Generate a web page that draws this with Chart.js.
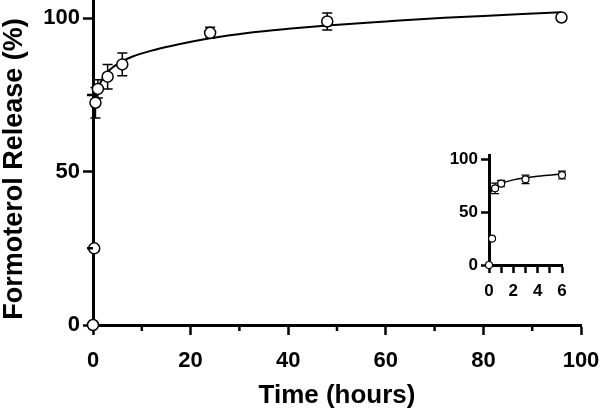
<!DOCTYPE html>
<html><head><meta charset="utf-8">
<script src="https://cdn.jsdelivr.net/npm/chart.js@4"></script>
<style>
html,body{margin:0;padding:0;background:#fff;}
#wrap{position:relative;width:600px;height:411px;overflow:hidden;}
#main{position:absolute;left:0;top:0;}
#inset{position:absolute;left:430px;top:140px;}
</style></head>
<body><div id="wrap"><canvas id="main" width="600" height="411"></canvas><canvas id="inset" width="150" height="170"></canvas></div>
<script>
// measured data
const timeHours  = [0, 0.25, 0.5, 1, 3, 6, 24, 48, 96];
const releasePct = [0, 25, 72.5, 77, 81, 85, 95.3, 99, 100.3];
const releaseSD  = [0, 0, 5, 3, 4, 3.7, 1.8, 2.8, 0];
// fitted curve
const fitTime = [0, 0.02, 0.05, 0.1, 0.25, 0.5, 1, 2, 3, 4, 6, 8, 12, 16, 24, 32, 40, 48, 60, 72, 84, 96];
const fitPct  = [0, 60, 64, 67, 71, 74, 77, 80.5, 82.5, 84, 86, 87.5, 89.5, 91, 93.5, 95.3, 96.6, 97.7, 99, 100.2, 101.1, 102];
// axis ticks
const mainXTicks = [0, 20, 40, 60, 80, 100];
const mainXMinor = [10, 30, 50, 70, 90];
const mainYTicks = [0, 50, 100];
const mainYMinor = [25, 75];
const insetXTicks = [0, 1, 2, 3, 4, 5, 6];
const insetXLabels = [0, 2, 4, 6];
const insetYTicks = [0, 50, 100];
const insetMaxTime = 6;
const xTitleText = 'Time (hours)';
const yTitleText = 'Formoterol Release (%)';

const FONT = "'Liberation Sans', Arial, sans-serif";

function pts(xs, ys, maxX) {
  const out = [];
  xs.forEach((x, i) => { if (maxX === undefined || x <= maxX) out.push({x: x, y: ys[i]}); });
  return out;
}

const errorBars = {
  id: 'errorBars',
  beforeDatasetsDraw(chart, args, opts) {
    const ctx = chart.ctx, xs = chart.scales.x, ys = chart.scales.y;
    ctx.save();
    ctx.strokeStyle = '#000';
    ctx.lineWidth = opts.lw || 1.5;
    const cap = opts.cap || 5;
    timeHours.forEach((t, i) => {
      if (t > xs.max) return;
      const sd = releaseSD[i];
      if (!sd) return;
      const px = xs.getPixelForValue(t);
      const top = ys.getPixelForValue(releasePct[i] + sd);
      const bot = ys.getPixelForValue(releasePct[i] - sd);
      ctx.beginPath();
      ctx.moveTo(px, top); ctx.lineTo(px, bot);
      ctx.moveTo(px - cap, top); ctx.lineTo(px + cap, top);
      ctx.moveTo(px - cap, bot); ctx.lineTo(px + cap, bot);
      ctx.stroke();
    });
    ctx.restore();
  }
};

const minorTicks = {
  id: 'minorTicks',
  afterDraw(chart, args, opts) {
    if (!opts.x && !opts.y) return;
    const ctx = chart.ctx, xs = chart.scales.x, ys = chart.scales.y, a = chart.chartArea;
    ctx.save();
    ctx.strokeStyle = '#000';
    ctx.lineWidth = opts.lw || 2.5;
    ctx.beginPath();
    (opts.x || []).forEach(v => { const p = xs.getPixelForValue(v); ctx.moveTo(p, a.bottom); ctx.lineTo(p, a.bottom + opts.len); });
    (opts.y || []).forEach(v => { const p = ys.getPixelForValue(v); ctx.moveTo(a.left, p); ctx.lineTo(a.left - opts.len, p); });
    ctx.stroke();
    ctx.restore();
  }
};

// vertical axis title drawn as text, centred slightly below the plot-area middle as in the reference
const yTitlePlugin = {
  id: 'yTitlePlugin',
  afterDraw(chart, args, opts) {
    if (!opts.text) return;
    const ctx = chart.ctx;
    ctx.save();
    ctx.translate(opts.x, opts.y);
    ctx.rotate(-Math.PI / 2);
    ctx.font = 'bold ' + opts.size + 'px ' + FONT;
    ctx.fillStyle = '#000';
    ctx.textAlign = 'center';
    ctx.textBaseline = 'middle';
    ctx.fillText(opts.text, 0, 0);
    ctx.restore();
  }
};

function makeChart(el, cfg) {
  const xTicksArr = cfg.xTicks, yTicksArr = cfg.yTicks;
  return new Chart(el, {
    type: 'scatter',
    data: {
      datasets: [
        {
          type: 'line',
          data: pts(fitTime, fitPct, cfg.xMax),
          borderColor: '#000',
          borderWidth: cfg.curveW,
          pointRadius: 0,
          fill: false,
          cubicInterpolationMode: 'monotone',
          order: 2,
          clip: false
        },
        {
          data: pts(timeHours, releasePct, cfg.xMax),
          pointStyle: 'circle',
          pointRadius: cfg.r,
          pointBorderWidth: cfg.pw,
          pointBorderColor: '#000',
          pointBackgroundColor: '#fff',
          borderColor: '#000',
          backgroundColor: '#fff',
          order: 1,
          clip: false
        }
      ]
    },
    options: {
      responsive: false,
      animation: false,
      devicePixelRatio: 1,
      events: [],
      layout: { padding: cfg.pad, autoPadding: false },
      plugins: {
        legend: { display: false },
        tooltip: { enabled: false },
        errorBars: { cap: cfg.cap, lw: cfg.ew },
        minorTicks: cfg.minor,
        yTitlePlugin: cfg.yTitle || {}
      },
      scales: {
        x: {
          type: 'linear', min: 0, max: cfg.xMax, z: 1,
          afterBuildTicks: s => { s.ticks = xTicksArr.map(v => ({ value: v })); },
          afterFit: s => { s.height = cfg.xH; s.paddingLeft = 0; s.paddingRight = 0; s.paddingTop = 0; },
          border: { display: true, color: '#000', width: cfg.axisW },
          grid: { display: true, drawOnChartArea: false, drawTicks: true, tickLength: cfg.tl, tickWidth: cfg.tw, tickColor: '#000', color: '#000' },
          ticks: {
            color: '#000', padding: cfg.xPad, maxRotation: 0, autoSkip: false,
            font: { family: FONT, size: cfg.fs, weight: 'bold' },
            callback: v => (cfg.xLabels ? (cfg.xLabels.includes(v) ? String(v) : '') : String(v))
          },
          title: cfg.xTitle ? { display: true, text: cfg.xTitle, color: '#000', padding: { top: 0, bottom: 0 }, font: { family: FONT, size: cfg.titleFs, weight: 'bold' } } : { display: false }
        },
        y: {
          type: 'linear', min: 0, max: cfg.yMax, z: 1,
          afterBuildTicks: s => { s.ticks = yTicksArr.map(v => ({ value: v })); },
          afterFit: s => { s.width = cfg.yW; s.paddingTop = 0; s.paddingBottom = 0; },
          border: { display: true, color: '#000', width: cfg.axisW },
          grid: { display: true, drawOnChartArea: false, drawTicks: true, tickLength: cfg.tl, tickWidth: cfg.tw, tickColor: '#000', color: '#000' },
          ticks: {
            color: '#000', padding: cfg.yPad, autoSkip: false,
            font: { family: FONT, size: cfg.fs, weight: 'bold' },
            callback: v => String(v)
          },
          title: { display: false }
        }
      }
    },
    plugins: [errorBars, minorTicks, yTitlePlugin]
  });
}

makeChart(document.getElementById('main'), {
  xMax: 100, yMax: 106, xTicks: mainXTicks, yTicks: mainYTicks,
  pad: { left: 0, right: 19, top: 0, bottom: 0 },
  xH: 86, yW: 93, tl: 10, tw: 2.5, axisW: 3, fs: 22, titleFs: 26,
  xPad: 13, yPad: 3, r: 5.5, pw: 1.5, curveW: 2, cap: 5, ew: 1.5,
  xTitle: xTitleText,
  yTitle: { text: yTitleText, x: 15, y: 169, size: 27 },
  minor: { x: mainXMinor, y: mainYMinor, len: 6, lw: 2.5 }
});

makeChart(document.getElementById('inset'), {
  xMax: insetMaxTime, yMax: 104, xTicks: insetXTicks, yTicks: insetYTicks, xLabels: insetXLabels,
  pad: { left: 0, right: 18, top: 15, bottom: 0 },
  xH: 45, yW: 59, tl: 8, tw: 2.5, axisW: 3, fs: 17, titleFs: 17,
  xPad: 8, yPad: 3, r: 3.5, pw: 1.2, curveW: 1.5, cap: 4, ew: 1.2,
  minor: { len: 0 }
});
</script>
</body></html>
